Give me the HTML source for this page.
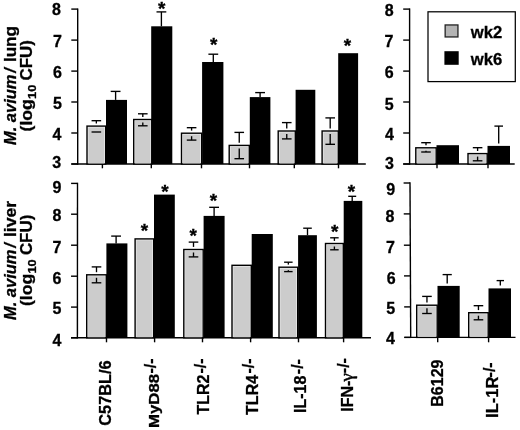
<!DOCTYPE html>
<html><head><meta charset="utf-8"><title>M. avium CFU</title>
<style>
html,body{margin:0;padding:0;background:#fff;}
body{width:520px;height:430px;overflow:hidden;}
svg{display:block;}
svg text{font-family:"Liberation Sans", sans-serif;fill:#000;stroke:#000;stroke-width:0.3px;}
</style></head><body>
<svg width="520" height="430" viewBox="0 0 520 430">
<rect x="0" y="0" width="520" height="430" fill="#ffffff"/>
<line x1="77.70" y1="8.40" x2="77.70" y2="164.70" stroke="#000" stroke-width="1.4"/>
<line x1="71.30" y1="9.10" x2="77.70" y2="9.10" stroke="#000" stroke-width="1.4"/>
<line x1="71.30" y1="40.10" x2="77.70" y2="40.10" stroke="#000" stroke-width="1.4"/>
<line x1="71.30" y1="71.10" x2="77.70" y2="71.10" stroke="#000" stroke-width="1.4"/>
<line x1="71.30" y1="102.00" x2="77.70" y2="102.00" stroke="#000" stroke-width="1.4"/>
<line x1="71.30" y1="133.00" x2="77.70" y2="133.00" stroke="#000" stroke-width="1.4"/>
<line x1="71.30" y1="164.00" x2="77.70" y2="164.00" stroke="#000" stroke-width="1.4"/>
<line x1="71.30" y1="164.00" x2="365.80" y2="164.00" stroke="#000" stroke-width="1.4"/>
<text x="56.50" y="15.35" font-size="16" font-weight="bold" font-style="normal" text-anchor="middle">8</text>
<text x="57.50" y="47.35" font-size="16" font-weight="bold" font-style="normal" text-anchor="middle">7</text>
<text x="57.50" y="78.45" font-size="16" font-weight="bold" font-style="normal" text-anchor="middle">6</text>
<text x="57.50" y="109.35" font-size="16" font-weight="bold" font-style="normal" text-anchor="middle">5</text>
<text x="57.00" y="139.65" font-size="16" font-weight="bold" font-style="normal" text-anchor="middle">4</text>
<text x="56.70" y="168.35" font-size="16" font-weight="bold" font-style="normal" text-anchor="middle">3</text>
<line x1="77.50" y1="182.70" x2="77.40" y2="338.50" stroke="#000" stroke-width="1.4"/>
<line x1="71.10" y1="183.40" x2="77.50" y2="183.40" stroke="#000" stroke-width="1.4"/>
<line x1="71.08" y1="214.20" x2="77.48" y2="214.20" stroke="#000" stroke-width="1.4"/>
<line x1="71.06" y1="245.20" x2="77.46" y2="245.20" stroke="#000" stroke-width="1.4"/>
<line x1="71.04" y1="276.20" x2="77.44" y2="276.20" stroke="#000" stroke-width="1.4"/>
<line x1="71.02" y1="307.10" x2="77.42" y2="307.10" stroke="#000" stroke-width="1.4"/>
<line x1="71.00" y1="337.80" x2="77.40" y2="337.80" stroke="#000" stroke-width="1.4"/>
<line x1="71.00" y1="337.80" x2="371.00" y2="337.80" stroke="#000" stroke-width="1.4"/>
<text x="57.00" y="192.90" font-size="16" font-weight="bold" font-style="normal" text-anchor="middle">9</text>
<text x="57.00" y="221.45" font-size="16" font-weight="bold" font-style="normal" text-anchor="middle">8</text>
<text x="57.00" y="252.85" font-size="16" font-weight="bold" font-style="normal" text-anchor="middle">7</text>
<text x="57.00" y="283.55" font-size="16" font-weight="bold" font-style="normal" text-anchor="middle">6</text>
<text x="57.00" y="314.45" font-size="16" font-weight="bold" font-style="normal" text-anchor="middle">5</text>
<text x="57.00" y="345.55" font-size="16" font-weight="bold" font-style="normal" text-anchor="middle">4</text>
<line x1="409.60" y1="8.40" x2="409.60" y2="164.70" stroke="#000" stroke-width="1.4"/>
<line x1="403.20" y1="9.10" x2="409.60" y2="9.10" stroke="#000" stroke-width="1.4"/>
<line x1="403.20" y1="40.10" x2="409.60" y2="40.10" stroke="#000" stroke-width="1.4"/>
<line x1="403.20" y1="71.10" x2="409.60" y2="71.10" stroke="#000" stroke-width="1.4"/>
<line x1="403.20" y1="102.00" x2="409.60" y2="102.00" stroke="#000" stroke-width="1.4"/>
<line x1="403.20" y1="133.00" x2="409.60" y2="133.00" stroke="#000" stroke-width="1.4"/>
<line x1="403.20" y1="164.00" x2="409.60" y2="164.00" stroke="#000" stroke-width="1.4"/>
<line x1="403.20" y1="164.00" x2="514.70" y2="164.00" stroke="#000" stroke-width="1.4"/>
<text x="389.30" y="16.05" font-size="16" font-weight="bold" font-style="normal" text-anchor="middle">8</text>
<text x="389.00" y="47.35" font-size="16" font-weight="bold" font-style="normal" text-anchor="middle">7</text>
<text x="389.30" y="78.05" font-size="16" font-weight="bold" font-style="normal" text-anchor="middle">6</text>
<text x="389.30" y="109.85" font-size="16" font-weight="bold" font-style="normal" text-anchor="middle">5</text>
<text x="389.50" y="140.15" font-size="16" font-weight="bold" font-style="normal" text-anchor="middle">4</text>
<text x="389.50" y="168.75" font-size="16" font-weight="bold" font-style="normal" text-anchor="middle">3</text>
<line x1="410.00" y1="182.30" x2="410.70" y2="338.10" stroke="#000" stroke-width="1.4"/>
<line x1="403.60" y1="183.00" x2="410.00" y2="183.00" stroke="#000" stroke-width="1.4"/>
<line x1="403.74" y1="213.90" x2="410.14" y2="213.90" stroke="#000" stroke-width="1.4"/>
<line x1="403.88" y1="245.20" x2="410.28" y2="245.20" stroke="#000" stroke-width="1.4"/>
<line x1="404.02" y1="275.90" x2="410.42" y2="275.90" stroke="#000" stroke-width="1.4"/>
<line x1="404.16" y1="306.90" x2="410.56" y2="306.90" stroke="#000" stroke-width="1.4"/>
<line x1="404.30" y1="337.40" x2="410.70" y2="337.40" stroke="#000" stroke-width="1.4"/>
<line x1="404.30" y1="337.40" x2="515.50" y2="337.40" stroke="#000" stroke-width="1.4"/>
<text x="390.70" y="194.75" font-size="16" font-weight="bold" font-style="normal" text-anchor="middle">9</text>
<text x="389.90" y="221.85" font-size="16" font-weight="bold" font-style="normal" text-anchor="middle">8</text>
<text x="390.50" y="253.05" font-size="16" font-weight="bold" font-style="normal" text-anchor="middle">7</text>
<text x="391.10" y="283.85" font-size="16" font-weight="bold" font-style="normal" text-anchor="middle">6</text>
<text x="390.70" y="314.25" font-size="16" font-weight="bold" font-style="normal" text-anchor="middle">5</text>
<text x="390.50" y="344.45" font-size="16" font-weight="bold" font-style="normal" text-anchor="middle">4</text>
<rect x="87.00" y="126.10" width="18.70" height="37.90" fill="#ebebeb" stroke="#000" stroke-width="1.4"/>
<rect x="88.40" y="127.50" width="15.90" height="35.90" fill="#cccccc"/>
<line x1="91.55" y1="120.70" x2="101.15" y2="120.70" stroke="#000" stroke-width="1.35"/>
<line x1="96.35" y1="120.70" x2="96.35" y2="123.50" stroke="#000" stroke-width="1.35"/>
<line x1="91.55" y1="132.00" x2="101.15" y2="132.00" stroke="#000" stroke-width="1.35"/>
<rect x="106.00" y="99.90" width="21.00" height="64.10" fill="#000"/>
<line x1="115.60" y1="91.40" x2="115.60" y2="99.90" stroke="#000" stroke-width="1.35"/>
<line x1="110.70" y1="91.40" x2="120.50" y2="91.40" stroke="#000" stroke-width="1.35"/>
<rect x="133.70" y="119.50" width="18.20" height="44.50" fill="#ebebeb" stroke="#000" stroke-width="1.4"/>
<rect x="135.10" y="120.90" width="15.40" height="42.50" fill="#cccccc"/>
<line x1="138.00" y1="113.80" x2="147.60" y2="113.80" stroke="#000" stroke-width="1.35"/>
<line x1="142.80" y1="113.80" x2="142.80" y2="116.90" stroke="#000" stroke-width="1.35"/>
<line x1="138.00" y1="125.80" x2="147.60" y2="125.80" stroke="#000" stroke-width="1.35"/>
<line x1="142.80" y1="122.50" x2="142.80" y2="125.80" stroke="#000" stroke-width="1.35"/>
<rect x="151.20" y="26.30" width="21.10" height="137.70" fill="#000"/>
<line x1="161.40" y1="11.90" x2="161.40" y2="26.30" stroke="#000" stroke-width="1.35"/>
<line x1="156.50" y1="11.90" x2="166.30" y2="11.90" stroke="#000" stroke-width="1.35"/>
<rect x="181.50" y="133.20" width="20.20" height="30.80" fill="#ebebeb" stroke="#000" stroke-width="1.4"/>
<rect x="182.90" y="134.60" width="17.40" height="28.80" fill="#cccccc"/>
<line x1="186.80" y1="127.70" x2="196.40" y2="127.70" stroke="#000" stroke-width="1.35"/>
<line x1="191.60" y1="127.70" x2="191.60" y2="130.60" stroke="#000" stroke-width="1.35"/>
<line x1="186.80" y1="140.10" x2="196.40" y2="140.10" stroke="#000" stroke-width="1.35"/>
<line x1="191.60" y1="136.20" x2="191.60" y2="140.10" stroke="#000" stroke-width="1.35"/>
<rect x="202.10" y="62.00" width="21.30" height="102.00" fill="#000"/>
<line x1="213.30" y1="54.20" x2="213.30" y2="62.00" stroke="#000" stroke-width="1.35"/>
<line x1="208.40" y1="54.20" x2="218.20" y2="54.20" stroke="#000" stroke-width="1.35"/>
<rect x="229.20" y="145.40" width="20.10" height="18.60" fill="#ebebeb" stroke="#000" stroke-width="1.4"/>
<rect x="230.60" y="146.80" width="17.30" height="16.60" fill="#cccccc"/>
<line x1="234.45" y1="132.40" x2="244.05" y2="132.40" stroke="#000" stroke-width="1.35"/>
<line x1="239.25" y1="132.40" x2="239.25" y2="142.80" stroke="#000" stroke-width="1.35"/>
<line x1="234.45" y1="158.70" x2="244.05" y2="158.70" stroke="#000" stroke-width="1.35"/>
<line x1="239.25" y1="148.40" x2="239.25" y2="158.70" stroke="#000" stroke-width="1.35"/>
<rect x="249.80" y="97.10" width="20.60" height="66.90" fill="#000"/>
<line x1="260.10" y1="92.60" x2="260.10" y2="97.10" stroke="#000" stroke-width="1.35"/>
<line x1="255.20" y1="92.60" x2="265.00" y2="92.60" stroke="#000" stroke-width="1.35"/>
<rect x="278.20" y="131.00" width="17.10" height="33.00" fill="#ebebeb" stroke="#000" stroke-width="1.4"/>
<rect x="279.60" y="132.40" width="14.30" height="31.00" fill="#cccccc"/>
<line x1="281.95" y1="122.60" x2="291.55" y2="122.60" stroke="#000" stroke-width="1.35"/>
<line x1="286.75" y1="122.60" x2="286.75" y2="128.40" stroke="#000" stroke-width="1.35"/>
<line x1="281.95" y1="138.90" x2="291.55" y2="138.90" stroke="#000" stroke-width="1.35"/>
<line x1="286.75" y1="134.00" x2="286.75" y2="138.90" stroke="#000" stroke-width="1.35"/>
<rect x="295.60" y="89.80" width="19.70" height="74.20" fill="#000"/>
<rect x="322.10" y="131.00" width="16.20" height="33.00" fill="#ebebeb" stroke="#000" stroke-width="1.4"/>
<rect x="323.50" y="132.40" width="13.40" height="31.00" fill="#cccccc"/>
<line x1="325.40" y1="117.90" x2="335.00" y2="117.90" stroke="#000" stroke-width="1.35"/>
<line x1="330.20" y1="117.90" x2="330.20" y2="128.40" stroke="#000" stroke-width="1.35"/>
<line x1="325.40" y1="144.30" x2="335.00" y2="144.30" stroke="#000" stroke-width="1.35"/>
<line x1="330.20" y1="134.00" x2="330.20" y2="144.30" stroke="#000" stroke-width="1.35"/>
<rect x="338.20" y="53.20" width="19.90" height="110.80" fill="#000"/>
<text x="161.80" y="15.15" font-size="19" font-weight="bold" font-style="normal" text-anchor="middle">*</text>
<text x="213.60" y="51.34" font-size="19" font-weight="bold" font-style="normal" text-anchor="middle">*</text>
<text x="347.50" y="51.95" font-size="19" font-weight="bold" font-style="normal" text-anchor="middle">*</text>
<rect x="415.80" y="147.80" width="20.40" height="16.20" fill="#ebebeb" stroke="#000" stroke-width="1.4"/>
<rect x="417.20" y="149.20" width="17.60" height="14.20" fill="#cccccc"/>
<line x1="421.20" y1="142.70" x2="430.80" y2="142.70" stroke="#000" stroke-width="1.35"/>
<line x1="426.00" y1="142.70" x2="426.00" y2="145.20" stroke="#000" stroke-width="1.35"/>
<line x1="421.20" y1="152.00" x2="430.80" y2="152.00" stroke="#000" stroke-width="1.35"/>
<line x1="426.00" y1="150.80" x2="426.00" y2="152.00" stroke="#000" stroke-width="1.35"/>
<rect x="436.50" y="145.20" width="22.50" height="18.80" fill="#000"/>
<rect x="468.00" y="153.60" width="19.20" height="10.40" fill="#ebebeb" stroke="#000" stroke-width="1.4"/>
<rect x="469.40" y="155.00" width="16.40" height="8.40" fill="#cccccc"/>
<line x1="472.80" y1="147.70" x2="482.40" y2="147.70" stroke="#000" stroke-width="1.35"/>
<line x1="477.60" y1="147.70" x2="477.60" y2="151.00" stroke="#000" stroke-width="1.35"/>
<line x1="472.80" y1="160.80" x2="482.40" y2="160.80" stroke="#000" stroke-width="1.35"/>
<line x1="477.60" y1="156.60" x2="477.60" y2="160.80" stroke="#000" stroke-width="1.35"/>
<rect x="487.50" y="145.90" width="22.50" height="18.10" fill="#000"/>
<line x1="498.70" y1="126.10" x2="498.70" y2="143.40" stroke="#000" stroke-width="1.35"/>
<line x1="494.40" y1="126.10" x2="503.00" y2="126.10" stroke="#000" stroke-width="1.35"/>
<rect x="86.70" y="274.80" width="19.60" height="63.00" fill="#ebebeb" stroke="#000" stroke-width="1.4"/>
<rect x="88.10" y="276.20" width="16.80" height="61.00" fill="#cccccc"/>
<line x1="91.70" y1="266.90" x2="101.30" y2="266.90" stroke="#000" stroke-width="1.35"/>
<line x1="96.50" y1="266.90" x2="96.50" y2="272.20" stroke="#000" stroke-width="1.35"/>
<line x1="91.70" y1="282.80" x2="101.30" y2="282.80" stroke="#000" stroke-width="1.35"/>
<line x1="96.50" y1="277.80" x2="96.50" y2="282.80" stroke="#000" stroke-width="1.35"/>
<rect x="106.40" y="243.40" width="21.00" height="94.40" fill="#000"/>
<line x1="116.10" y1="236.10" x2="116.10" y2="243.40" stroke="#000" stroke-width="1.35"/>
<line x1="111.20" y1="236.10" x2="121.00" y2="236.10" stroke="#000" stroke-width="1.35"/>
<rect x="135.10" y="238.90" width="18.60" height="98.90" fill="#ebebeb" stroke="#000" stroke-width="1.4"/>
<rect x="136.50" y="240.30" width="15.80" height="96.90" fill="#cccccc"/>
<rect x="154.00" y="194.60" width="20.80" height="143.20" fill="#000"/>
<rect x="183.80" y="249.50" width="19.40" height="88.30" fill="#ebebeb" stroke="#000" stroke-width="1.4"/>
<rect x="185.20" y="250.90" width="16.60" height="86.30" fill="#cccccc"/>
<line x1="188.70" y1="242.10" x2="198.30" y2="242.10" stroke="#000" stroke-width="1.35"/>
<line x1="193.50" y1="242.10" x2="193.50" y2="246.90" stroke="#000" stroke-width="1.35"/>
<line x1="188.70" y1="256.90" x2="198.30" y2="256.90" stroke="#000" stroke-width="1.35"/>
<line x1="193.50" y1="252.50" x2="193.50" y2="256.90" stroke="#000" stroke-width="1.35"/>
<rect x="203.60" y="215.90" width="21.00" height="121.90" fill="#000"/>
<line x1="214.10" y1="207.30" x2="214.10" y2="215.90" stroke="#000" stroke-width="1.35"/>
<line x1="209.20" y1="207.30" x2="219.00" y2="207.30" stroke="#000" stroke-width="1.35"/>
<rect x="232.00" y="265.30" width="19.30" height="72.50" fill="#ebebeb" stroke="#000" stroke-width="1.4"/>
<rect x="233.40" y="266.70" width="16.50" height="70.50" fill="#cccccc"/>
<rect x="251.70" y="234.00" width="21.10" height="103.80" fill="#000"/>
<rect x="279.00" y="267.20" width="18.70" height="70.60" fill="#ebebeb" stroke="#000" stroke-width="1.4"/>
<rect x="280.40" y="268.60" width="15.90" height="68.60" fill="#cccccc"/>
<line x1="284.10" y1="262.20" x2="292.60" y2="262.20" stroke="#000" stroke-width="1.35"/>
<line x1="288.35" y1="262.20" x2="288.35" y2="264.60" stroke="#000" stroke-width="1.35"/>
<line x1="284.10" y1="271.60" x2="292.60" y2="271.60" stroke="#000" stroke-width="1.35"/>
<line x1="288.35" y1="270.20" x2="288.35" y2="271.60" stroke="#000" stroke-width="1.35"/>
<rect x="298.10" y="235.20" width="18.80" height="102.60" fill="#000"/>
<line x1="307.50" y1="228.20" x2="307.50" y2="235.20" stroke="#000" stroke-width="1.35"/>
<line x1="303.20" y1="228.20" x2="311.80" y2="228.20" stroke="#000" stroke-width="1.35"/>
<rect x="325.50" y="243.50" width="17.80" height="94.30" fill="#ebebeb" stroke="#000" stroke-width="1.4"/>
<rect x="326.90" y="244.90" width="15.00" height="92.30" fill="#cccccc"/>
<line x1="330.15" y1="237.80" x2="338.65" y2="237.80" stroke="#000" stroke-width="1.35"/>
<line x1="334.40" y1="237.80" x2="334.40" y2="240.90" stroke="#000" stroke-width="1.35"/>
<line x1="330.15" y1="249.80" x2="338.65" y2="249.80" stroke="#000" stroke-width="1.35"/>
<line x1="334.40" y1="246.50" x2="334.40" y2="249.80" stroke="#000" stroke-width="1.35"/>
<rect x="343.70" y="200.90" width="18.60" height="136.90" fill="#000"/>
<line x1="352.20" y1="196.30" x2="352.20" y2="200.90" stroke="#000" stroke-width="1.35"/>
<line x1="348.20" y1="196.30" x2="356.20" y2="196.30" stroke="#000" stroke-width="1.35"/>
<text x="144.40" y="237.44" font-size="19" font-weight="bold" font-style="normal" text-anchor="middle">*</text>
<text x="164.90" y="197.55" font-size="19" font-weight="bold" font-style="normal" text-anchor="middle">*</text>
<text x="193.10" y="241.94" font-size="19" font-weight="bold" font-style="normal" text-anchor="middle">*</text>
<text x="213.40" y="207.14" font-size="19" font-weight="bold" font-style="normal" text-anchor="middle">*</text>
<text x="334.70" y="237.94" font-size="19" font-weight="bold" font-style="normal" text-anchor="middle">*</text>
<text x="351.50" y="198.35" font-size="19" font-weight="bold" font-style="normal" text-anchor="middle">*</text>
<rect x="416.70" y="305.20" width="20.50" height="32.20" fill="#ebebeb" stroke="#000" stroke-width="1.4"/>
<rect x="418.10" y="306.60" width="17.70" height="30.20" fill="#cccccc"/>
<line x1="422.15" y1="296.40" x2="431.75" y2="296.40" stroke="#000" stroke-width="1.35"/>
<line x1="426.95" y1="296.40" x2="426.95" y2="302.60" stroke="#000" stroke-width="1.35"/>
<line x1="422.15" y1="313.50" x2="431.75" y2="313.50" stroke="#000" stroke-width="1.35"/>
<line x1="426.95" y1="308.20" x2="426.95" y2="313.50" stroke="#000" stroke-width="1.35"/>
<rect x="437.50" y="285.90" width="22.20" height="51.50" fill="#000"/>
<line x1="447.20" y1="274.60" x2="447.20" y2="283.40" stroke="#000" stroke-width="1.35"/>
<line x1="442.60" y1="274.60" x2="451.80" y2="274.60" stroke="#000" stroke-width="1.35"/>
<rect x="468.70" y="312.70" width="19.50" height="24.70" fill="#ebebeb" stroke="#000" stroke-width="1.4"/>
<rect x="470.10" y="314.10" width="16.70" height="22.70" fill="#cccccc"/>
<line x1="473.65" y1="305.70" x2="483.25" y2="305.70" stroke="#000" stroke-width="1.35"/>
<line x1="478.45" y1="305.70" x2="478.45" y2="310.10" stroke="#000" stroke-width="1.35"/>
<line x1="473.65" y1="319.80" x2="483.25" y2="319.80" stroke="#000" stroke-width="1.35"/>
<line x1="478.45" y1="315.70" x2="478.45" y2="319.80" stroke="#000" stroke-width="1.35"/>
<rect x="488.50" y="288.40" width="22.50" height="49.00" fill="#000"/>
<line x1="500.30" y1="280.60" x2="500.30" y2="285.60" stroke="#000" stroke-width="1.35"/>
<line x1="496.60" y1="280.60" x2="504.00" y2="280.60" stroke="#000" stroke-width="1.35"/>
<line x1="102.40" y1="164.00" x2="102.40" y2="168.30" stroke="#000" stroke-width="1.4"/>
<line x1="151.30" y1="164.00" x2="151.30" y2="168.30" stroke="#000" stroke-width="1.4"/>
<line x1="201.50" y1="164.00" x2="201.50" y2="168.30" stroke="#000" stroke-width="1.4"/>
<line x1="249.50" y1="164.00" x2="249.50" y2="168.30" stroke="#000" stroke-width="1.4"/>
<line x1="294.30" y1="164.00" x2="294.30" y2="168.30" stroke="#000" stroke-width="1.4"/>
<line x1="338.50" y1="164.00" x2="338.50" y2="168.30" stroke="#000" stroke-width="1.4"/>
<line x1="437.00" y1="164.00" x2="437.00" y2="168.30" stroke="#000" stroke-width="1.4"/>
<line x1="488.00" y1="164.00" x2="488.00" y2="168.30" stroke="#000" stroke-width="1.4"/>
<line x1="106.50" y1="337.80" x2="106.50" y2="342.30" stroke="#000" stroke-width="1.4"/>
<line x1="154.60" y1="337.80" x2="154.60" y2="342.30" stroke="#000" stroke-width="1.4"/>
<line x1="202.50" y1="337.80" x2="202.50" y2="342.30" stroke="#000" stroke-width="1.4"/>
<line x1="250.60" y1="337.80" x2="250.60" y2="342.30" stroke="#000" stroke-width="1.4"/>
<line x1="298.50" y1="337.80" x2="298.50" y2="342.30" stroke="#000" stroke-width="1.4"/>
<line x1="343.60" y1="337.80" x2="343.60" y2="342.30" stroke="#000" stroke-width="1.4"/>
<line x1="437.70" y1="337.40" x2="437.70" y2="342.30" stroke="#000" stroke-width="1.4"/>
<line x1="488.60" y1="337.40" x2="488.60" y2="342.30" stroke="#000" stroke-width="1.4"/>
<rect x="428.0" y="11.8" width="87.3" height="69.8" fill="#fff" stroke="#000" stroke-width="1.25"/>
<rect x="445.15" y="24.95" width="12.80" height="12.00" fill="#b4b4b4" stroke="#222" stroke-width="1.3"/>
<rect x="444.40" y="51.20" width="14.30" height="13.60" fill="#000"/>
<text x="470.80" y="37.50" font-size="16.6" font-weight="bold" font-style="normal" text-anchor="start">wk2</text>
<text x="470.80" y="65.10" font-size="16.6" font-weight="bold" font-style="normal" text-anchor="start">wk6</text>
<text transform="translate(15.8 145.1) rotate(-90)" font-size="16.5" font-weight="bold" font-style="italic">M. avium</text>
<text transform="translate(15.8 72.7) rotate(-90)" font-size="16.5" font-weight="bold" font-style="italic">/</text>
<text transform="translate(15.8 62.1) rotate(-90)" font-size="16.5" font-weight="bold" textLength="36.1" lengthAdjust="spacingAndGlyphs">lung</text>
<text transform="translate(15.8 320.1) rotate(-90)" font-size="16.5" font-weight="bold" font-style="italic">M. avium</text>
<text transform="translate(15.8 247.7) rotate(-90)" font-size="16.5" font-weight="bold" font-style="italic">/</text>
<text transform="translate(15.8 237.1) rotate(-90)" font-size="16.5" font-weight="bold" textLength="36.3" lengthAdjust="spacingAndGlyphs">liver</text>
<text transform="translate(32.2 131.4) rotate(-90)" font-size="16.5" font-weight="bold" textLength="32.3" lengthAdjust="spacingAndGlyphs">(log</text>
<text transform="translate(35.6 99.0) rotate(-90)" font-size="11.5" font-weight="bold" textLength="14.3" lengthAdjust="spacingAndGlyphs">10</text>
<text transform="translate(32.2 80.5) rotate(-90)" font-size="16.5" font-weight="bold" textLength="40.4" lengthAdjust="spacingAndGlyphs">CFU)</text>
<text transform="translate(32.2 306.0) rotate(-90)" font-size="16.5" font-weight="bold" textLength="32.3" lengthAdjust="spacingAndGlyphs">(log</text>
<text transform="translate(35.6 273.6) rotate(-90)" font-size="11.5" font-weight="bold" textLength="14.3" lengthAdjust="spacingAndGlyphs">10</text>
<text transform="translate(32.2 255.1) rotate(-90)" font-size="16.5" font-weight="bold" textLength="40.4" lengthAdjust="spacingAndGlyphs">CFU)</text>
<text transform="translate(111.40 425.70) rotate(-90)" font-size="16" font-weight="bold" textLength="65.3" lengthAdjust="spacingAndGlyphs">C57BL/6</text>
<text transform="translate(159.40 428.00) rotate(-90)" font-size="15.5" font-weight="bold" textLength="54.2" lengthAdjust="spacingAndGlyphs">MyD88</text>
<text transform="translate(156.20 373.50) rotate(-90)" font-size="16" font-weight="bold">-/-</text>
<text transform="translate(209.20 414.60) rotate(-90)" font-size="16" font-weight="bold">TLR2</text>
<text transform="translate(205.90 373.60) rotate(-90)" font-size="16" font-weight="bold">-/-</text>
<text transform="translate(257.60 414.90) rotate(-90)" font-size="16" font-weight="bold">TLR4</text>
<text transform="translate(254.30 373.60) rotate(-90)" font-size="16" font-weight="bold">-/-</text>
<text transform="translate(306.30 413.00) rotate(-90)" font-size="16" font-weight="bold">IL-18</text>
<text transform="translate(303.00 374.20) rotate(-90)" font-size="16" font-weight="bold">-/-</text>
<text transform="translate(353.10 411.80) rotate(-90)" font-size="16" font-weight="bold">IFN-</text>
<text transform="translate(349.40 373.20) rotate(-90)" font-size="16" font-weight="bold">-/-</text>
<text transform="translate(353.1 381.6) rotate(-90)" font-size="19" font-weight="normal" style="font-family:'Liberation Serif','DejaVu Serif',serif;stroke-width:0.45px">γ</text>
<text transform="translate(442.50 406.70) rotate(-90)" font-size="16" font-weight="bold">B6129</text>
<text transform="translate(498.00 417.90) rotate(-90)" font-size="16" font-weight="bold" textLength="41.2" lengthAdjust="spacingAndGlyphs">IL-1R</text>
<text transform="translate(494.70 377.40) rotate(-90)" font-size="16" font-weight="bold">-/-</text>
</svg>
</body></html>
